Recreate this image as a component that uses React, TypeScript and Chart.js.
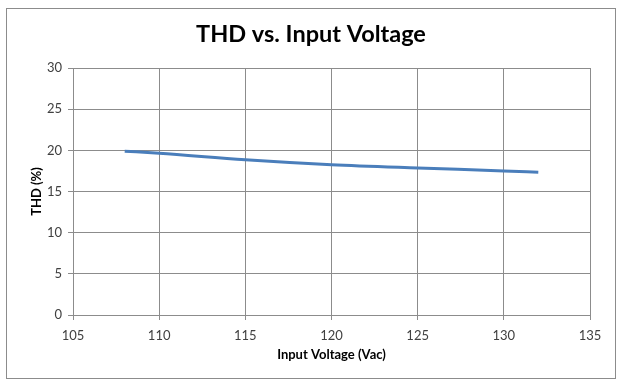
import React, { useEffect, useRef } from "react";
import { Chart, registerables } from "chart.js";

Chart.register(...registerables);

const voltage = [108, 110, 115, 120, 125, 130, 132];
const thd = [19.9, 19.65, 18.85, 18.25, 17.85, 17.5, 17.33];
const titleText = "THD vs. Input Voltage";
const xTitle = "Input Voltage (Vac)";
const yTitle = "THD (%)";

const FONT = "Lato, 'Open Sans', sans-serif";

export default function App() {
  const ref = useRef<HTMLCanvasElement | null>(null);
  useEffect(() => {
    const canvas = ref.current!;
    const framePlugin = {
      id: "frame",
      beforeDraw(chart: any) {
        const ctx = chart.ctx;
        ctx.save();
        ctx.fillStyle = "#ffffff";
        ctx.fillRect(0, 0, chart.width, chart.height);
        ctx.strokeStyle = "#8c8c8c";
        ctx.lineWidth = 1;
        ctx.strokeRect(6.5, 8.5, 609, 370);
        ctx.fillStyle = "#000000";
        ctx.font = `bold 23.5px ${FONT}`;
        ctx.textAlign = "center";
        ctx.textBaseline = "alphabetic";
        ctx.fillText(titleText, 311, 42);
        ctx.restore();
      },
    };
    const chart = new Chart(canvas, {
      type: "scatter",
      data: {
        datasets: [
          {
            data: voltage.map((v, i) => ({ x: v, y: thd[i] })),
            showLine: true,
            borderColor: "#4a7ebb",
            backgroundColor: "#4a7ebb",
            borderWidth: 3,
            pointRadius: 0,
            cubicInterpolationMode: "monotone",
          },
        ],
      },
      options: {
        animation: false,
        responsive: false,
        layout: { padding: { left: 0, right: 35, top: 68, bottom: 0 } },
        plugins: {
          legend: { display: false },
          tooltip: { enabled: false },
          title: { display: false },
        },
        scales: {
          x: {
            type: "linear",
            min: 105,
            max: 135,
            ticks: { stepSize: 5, color: "#404040", font: { family: FONT, size: 13 }, padding: 8 },
            grid: { color: "#8c8c8c", tickLength: 5, drawTicks: true },
            border: { color: "#8c8c8c" },
            title: {
              display: true,
              text: xTitle,
              color: "#000000",
              font: { family: FONT, size: 13, weight: "bold", lineHeight: 1.2 },
              padding: { top: 0, bottom: 25 },
            },
            afterFit(scale: any) {
              scale.height = 73;
            },
          },
          y: {
            min: 0,
            max: 30,
            ticks: { stepSize: 5, color: "#404040", font: { family: FONT, size: 13 }, padding: 6 },
            grid: { color: "#8c8c8c", tickLength: 5 },
            border: { color: "#8c8c8c" },
            title: {
              display: true,
              text: yTitle,
              color: "#000000",
              font: { family: FONT, size: 13, weight: "bold", lineHeight: 1.2 },
              padding: { top: 29, bottom: 0 },
            },
            afterFit(scale: any) {
              scale.width = 73;
            },
          },
        },
      },
      plugins: [framePlugin],
    });
    return () => chart.destroy();
  }, []);
  return (
    <div style={{ position: "fixed", left: 0, top: 0, width: 625, height: 388 }}>
      <canvas ref={ref} width={625} height={388} style={{ display: "block" }} />
    </div>
  );
}
